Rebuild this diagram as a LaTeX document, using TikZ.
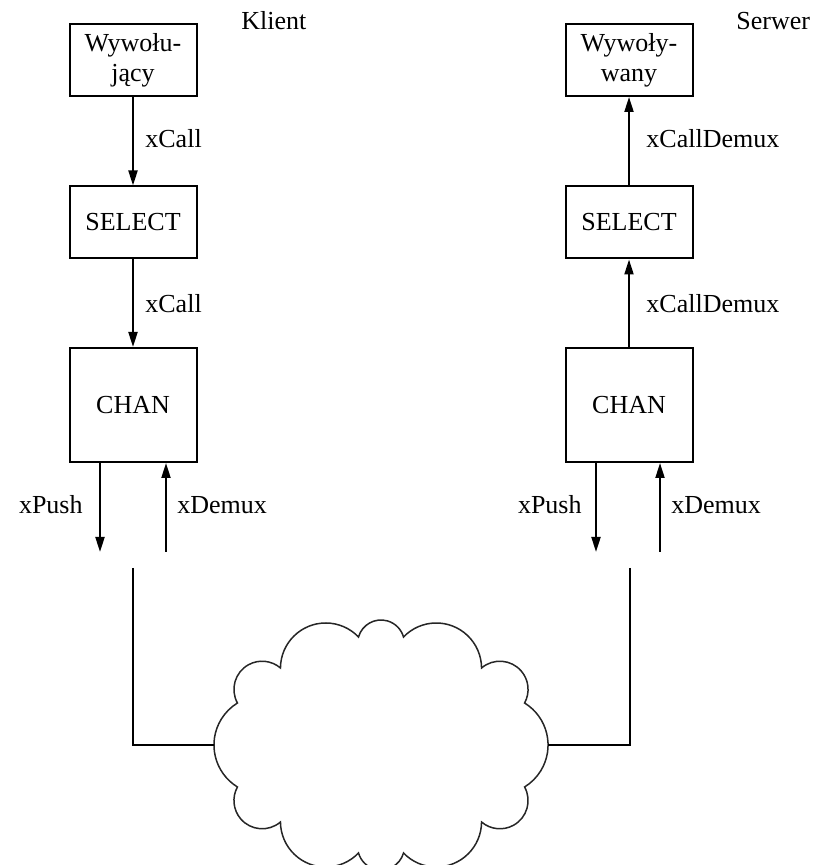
\documentclass[tikz,border=0pt]{standalone}
\usepackage{fontspec}
\setmainfont{Liberation Serif}
\usetikzlibrary{arrows.meta}

\begin{document}
\begin{tikzpicture}[x=0.5pt, y=0.5pt,
    font=\fontsize{13}{15}\selectfont,
    blok/.style={draw, line width=1pt, minimum width=63.5pt, inner sep=0pt, align=center},
    etykieta/.style={inner sep=0pt},
    strzalka/.style={line width=1pt, -{Triangle[length=7.5pt,width=4.5pt]}},
    linia/.style={line width=1pt},
    chmura/.style={line width=0.75pt, draw=black!85}]

\useasboundingbox (0,0) rectangle (823,865);

% Column titles
\node[etykieta, anchor=west] (klient) at (241,844) {Klient};
\node[etykieta, anchor=west] (serwer) at (736,844) {Serwer};

% Client side
\node[blok, minimum height=36pt] (wyw1) at (133,805) {Wywołu-\\jący};
\node[blok, minimum height=36pt] (sel1) at (133,642.5) {SELECT};
\node[blok, minimum height=57pt] (chan1) at (133,460) {CHAN};

\draw[strzalka] (wyw1) -- (sel1);
\draw[strzalka] (sel1) -- (chan1);
\node[etykieta, anchor=west] (call1) at (145,726) {xCall};
\node[etykieta, anchor=west] (call2) at (145,561) {xCall};

% Server side
\node[blok, minimum height=36pt] (wyw2) at (629,805) {Wywoły-\\wany};
\node[blok, minimum height=36pt] (sel2) at (629,642.5) {SELECT};
\node[blok, minimum height=57pt] (chan2) at (629,460) {CHAN};

\draw[strzalka] (sel2) -- (wyw2);
\draw[strzalka] (chan2) -- (sel2);
\node[etykieta, anchor=west] (cdmx1) at (646,726) {xCallDemux};
\node[etykieta, anchor=west] (cdmx2) at (646,561) {xCallDemux};

% Push / demux ends
\coordinate (push1) at (100,313);
\coordinate (demux1) at (166,313);
\coordinate (push2) at (596,313);
\coordinate (demux2) at (660,313);

\draw[strzalka] (chan1.south -| push1) -- (push1);
\draw[strzalka] (demux1) -- (chan1.south -| demux1);
\draw[strzalka] (chan2.south -| push2) -- (push2);
\draw[strzalka] (demux2) -- (chan2.south -| demux2);

\node[etykieta, anchor=east] (pushl1) at (83,360) {xPush};
\node[etykieta, anchor=west] (dmxl1) at (177,360) {xDemux};
\node[etykieta, anchor=east] (pushl2) at (582,360) {xPush};
\node[etykieta, anchor=west] (dmxl2) at (671,360) {xDemux};

% Network cloud
\coordinate (siec) at (381,120);
\coordinate (siecW) at (214,120);
\coordinate (siecE) at (548,120);
\draw[chmura] (siec) ++(-22.5,108)
    arc[start angle=164.1, end angle=15.9, radius=23.4]
    arc[start angle=136.3, end angle=0.4, radius=45.3]
    arc[start angle=130.5, end angle=-28.8, radius=28.2]
    arc[start angle=58.4, end angle=-58.4, radius=49.3]
    arc[start angle=28.8, end angle=-130.5, radius=28.2]
    arc[start angle=-0.4, end angle=-136.3, radius=45.3]
    arc[start angle=-15.9, end angle=-164.1, radius=23.4]
    arc[start angle=316.3, end angle=180.4, radius=45.3]
    arc[start angle=310.5, end angle=151.2, radius=28.2]
    arc[start angle=238.4, end angle=121.6, radius=49.3]
    arc[start angle=208.8, end angle=49.5, radius=28.2]
    arc[start angle=179.6, end angle=43.7, radius=45.3]
    -- cycle;

% Links to the network
\coordinate (lacze1) at (133,297);
\coordinate (lacze2) at (630,297);
\draw[linia] (lacze1) |- (siecW);
\draw[linia] (lacze2) |- (siecE);

\end{tikzpicture}
\end{document}
